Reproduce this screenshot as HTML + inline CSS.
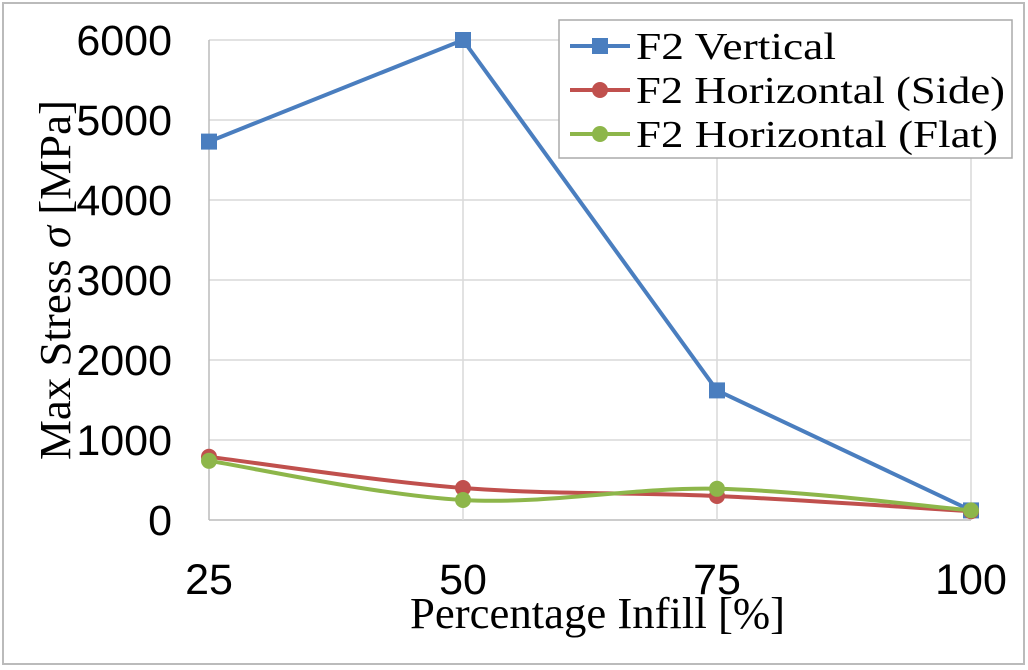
<!DOCTYPE html>
<html><head><meta charset="utf-8"><style>
body{margin:0;background:#fff}
svg{display:block}
.tk{font-family:"Liberation Sans",sans-serif;font-size:43px;fill:#000}
.tt{font-family:"Liberation Serif",serif;font-size:44px;fill:#000}
.lg{font-family:"Liberation Serif",serif;font-size:38px;fill:#000}
</style></head><body>
<svg id="c" width="1028" height="670">
<rect x="3" y="3" width="1021" height="661" fill="#fff" stroke="#bbb" stroke-width="2"/>
<g id="grid"></g><g id="series"></g><g id="labels"></g>
<text class="tt" x="410" y="628" textLength="375" lengthAdjust="spacingAndGlyphs">Percentage  Infill [%]</text>
<text class="tt" transform="translate(70,460) rotate(-90)" textLength="360" lengthAdjust="spacingAndGlyphs">Max Stress <tspan font-style="italic">σ</tspan> [MPa]</text>
<g>
<rect x="559" y="20" width="453" height="138" fill="#fff" stroke="#aaa" stroke-width="1.5"/>
<g id="leg"></g>
</g>
</svg>
<script>
const categories=[25,50,75,100];
const vertical=[4730,6000,1620,120];
const side=[790,400,300,110];
const flat=[740,250,390,120];
const yTicks=[0,1000,2000,3000,4000,5000,6000];
const seriesNames=["F2 Vertical","F2 Horizontal (Side)","F2 Horizontal (Flat)"];
const legendWidths=[200,369,362];
const NS="http://www.w3.org/2000/svg";
function X(v){return 209+(v-25)/75*762;}
function Y(v){return 520-v/6000*480;}
function mk(t,a,p){const e=document.createElementNS(NS,t);for(const k in a)e.setAttribute(k,a[k]);p.appendChild(e);return e;}
const grid=document.getElementById('grid'),ser=document.getElementById('series'),lab=document.getElementById('labels'),leg=document.getElementById('leg');
yTicks.forEach(t=>{const l=mk('line',{x1:209,x2:971,y1:Y(t),y2:Y(t),stroke:t===0?'#bbb':'#d9d9d9','stroke-width':1.5},grid);


const tx=mk('text',{x:172,y:Y(t)+15,'text-anchor':'end',class:'tk'},lab);tx.textContent=t;

});
categories.forEach(c=>{const l=mk('line',{x1:X(c),x2:X(c),y1:Y(6000),y2:520,stroke:c===25?'#bbb':'#d9d9d9','stroke-width':1.5},grid);


const tx=mk('text',{x:X(c),y:594,'text-anchor':'middle',class:'tk'},lab);tx.textContent=c;

});
function pathFor(vals,smooth){const p=vals.map((v,i)=>[X(categories[i]),Y(v)]);let d='M'+p[0];
for(let i=1;i<p.length;i++){if(!smooth){d+='L'+p[i];continue;}
const p0=p[Math.max(0,i-2)],p1=p[i-1],p2=p[i],p3=p[Math.min(p.length-1,i+1)];
const c1=[p1[0]+(p2[0]-p0[0])/6,p1[1]+(p2[1]-p0[1])/6],c2=[p2[0]-(p3[0]-p1[0])/6,p2[1]-(p3[1]-p1[1])/6];
d+='C'+c1+' '+c2+' '+p2;}return d;}
const defs=[[vertical,'#4a7ebf','sq',false,'series-vertical'],[side,'#c0504d','ci',true,'series-side'],[flat,'#8db64a','ci',true,'series-flat']];
defs.forEach((s,k)=>{const g=mk('g',{},ser);


mk('path',{d:pathFor(s[0],s[3]),fill:'none',stroke:s[1],'stroke-width':4},g);
s[0].forEach((v,i)=>{const x=X(categories[i]),y=Y(v);let m;
if(s[2]==='sq')m=mk('rect',{x:x-8,y:y-8,width:16,height:16,fill:s[1]},g);else m=mk('circle',{cx:x,cy:y,r:8,fill:s[1]},g);

});
const ly=46+k*44;
mk('line',{x1:570,x2:630,y1:ly,y2:ly,stroke:s[1],'stroke-width':4},leg);
if(s[2]==='sq')mk('rect',{x:592,y:ly-8,width:16,height:16,fill:s[1]},leg);else mk('circle',{cx:600,cy:ly,r:8,fill:s[1]},leg);
const t=mk('text',{x:636,y:ly+13,class:'lg',textLength:legendWidths[k],lengthAdjust:'spacingAndGlyphs'},leg);t.textContent=seriesNames[k];

});
</script>
</body></html>
